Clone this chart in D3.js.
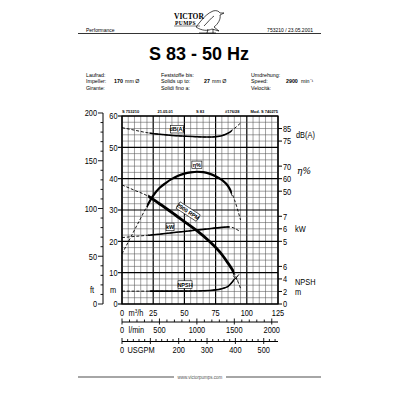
<!DOCTYPE html>
<html>
<head>
<meta charset="utf-8">
<script src="https://cdn.jsdelivr.net/npm/d3@7"></script>
<style>
body { margin: 0; background: #fff; }
svg { display: block; }
text { font-family: "Liberation Sans", Arial, sans-serif; fill: #000; }
</style>
</head>
<body>
<div id="chart"></div>
<script>
// curve data (flow in m3/h)
const headQ = [0, 10, 20, 30, 40, 50, 60, 70, 80, 85, 90, 95];
const headM = [38, 36.3, 34.6, 32, 29.2, 26.3, 23.4, 20, 15.8, 13, 9.8, 5];
const etaQ = [0, 5, 10, 15, 20, 25, 30, 35, 40, 45, 50, 55, 60, 65, 70, 75, 80, 85, 90, 95];
const etaPct = [0, 9.5, 19, 28.5, 38, 46.5, 52.5, 56.5, 59.8, 62.3, 64, 65, 65.5, 65.2, 64, 62, 59, 54, 43.5, 27];
const kwQ = [0, 10, 20, 30, 40, 50, 60, 70, 80, 85, 88, 91, 95];
const kwVal = [5.3, 5.39, 5.48, 5.57, 5.68, 5.79, 5.9, 6.01, 6.11, 6.15, 6.12, 6.0, 5.75];
const dbQ = [0, 10, 20, 30, 40, 50, 60, 70, 75, 80, 85, 90, 95];
const dbVal = [85.7, 83.7, 81.7, 80.4, 79.5, 78.9, 78.4, 78.2, 78.5, 79.3, 81.3, 85, 89.4];
const npshQ = [0, 20, 40, 60, 70, 75, 80, 85, 90, 95];
const npshVal = [2.05, 2.05, 2.05, 2.07, 2.15, 2.25, 2.45, 2.8, 3.9, 5.0];

// axis ticks
const qTicks = [0, 25, 50, 75, 100, 125];
const mTicks = [0, 10, 20, 30, 40, 50, 60];
const ftTicks = [0, 50, 100, 150, 200];
const lminTicks = [0, 500, 1000, 1500, 2000];
const gpmTicks = [0, 200, 300, 400, 500];
const dbTicks = [85, 75];
const etaTicks = [70, 60, 50];
const kwTicks = [7, 6, 5];
const npshTicks = [6, 4, 2, 0];
const topNotes = ["S 753210", "21.05.01", "S 83", "#176/28", "Mod. S 740275"];

const W = 400, H = 400;
const svg = d3.select("#chart").append("svg").attr("width", W).attr("height", H);
svg.append("rect").attr("width", W).attr("height", H).attr("fill", "#fff");

const x = d3.scaleLinear().domain([0, 125]).range([122, 278]);
const yH = d3.scaleLinear().domain([0, 60]).range([304, 116]);
const yFt = d3.scaleLinear().domain([0, 200]).range([yH(0), yH(200 * 0.3048)]);
const yEta = d3.scaleLinear().domain([0, 100]).range([yH(16), yH(56)]);
const yKw = d3.scaleLinear().domain([5, 7]).range([yH(20), yH(28)]);
const yDb = d3.scaleLinear().domain([75, 85]).range([yH(52), yH(56)]);
const yNpsh = d3.scaleLinear().domain([0, 6]).range([yH(0), yH(12)]);
const xLmin = d3.scaleLinear().domain([0, 125 / 0.06]).range(x.range());
const xGpm = d3.scaleLinear().domain([0, 125 / 0.227125]).range(x.range());

// condensed axis lettering, like the printed sheet
function nt(sel, fx, fy, anchor) {
  return sel.attr("transform", (d, i) => `translate(${fx(d, i)},${fy(d, i)}) scale(0.78,1)`)
    .attr("text-anchor", anchor || "start")
    .style("font-size", "9.5px");
}

// ---- header
svg.append("text").attr("x", 174).attr("y", 18.5)
  .style("font-family", "'Liberation Serif', serif").style("font-weight", "bold")
  .style("font-size", "7.5px").text("VICTOR");
svg.append("text").attr("x", 175).attr("y", 24.5)
  .style("font-family", "'Liberation Serif', serif").style("font-weight", "bold")
  .style("font-size", "5.5px").style("letter-spacing", "0.4px").text("PUMPS");
svg.append("path")
  .attr("d", "M196,27 L200,22 C204,17 208,13 213,11 C216,10 219,11 220,13 L224,13 L220,15 C221,19 218,24 214,27 L219,31 L212,29 C208,31 202,31 196,27 Z M204,26 C208,22 211,18 214,16 M208,29 L207,33 M213,29 L213,33 M199,33 L216,33")
  .attr("fill", "none").attr("stroke", "#000").attr("stroke-width", 0.7);
svg.append("line").attr("x1", 174).attr("x2", 200).attr("y1", 26).attr("y2", 26)
  .attr("stroke", "#000").attr("stroke-width", 0.5);

svg.append("text").attr("x", 86).attr("y", 31.5).style("font-size", "5px").text("Performance");
svg.append("text").attr("x", 313).attr("y", 31.5).attr("text-anchor", "end")
  .style("font-size", "5px").text("753210 / 23.05.2001");
svg.append("line").attr("x1", 78).attr("x2", 321).attr("y1", 33.5).attr("y2", 33.5)
  .attr("stroke", "#000").attr("stroke-width", 0.8);

svg.append("text").attr("x", 199).attr("y", 60).attr("text-anchor", "middle")
  .style("font-size", "18px").style("font-weight", "bold").text("S 83 - 50 Hz");

const info = [
  [86, 76.5, "Laufrad:", false], [86, 83, "Impeller:", false], [86, 89.5, "Girante:", false],
  [114, 83, "170", true], [125, 83, "mm Ø", false],
  [161, 76.5, "Feststoffe bis:", false], [161, 83, "Solids up to:", false], [161, 89.5, "Solidi fino a:", false],
  [204, 83, "27", true], [212, 83, "mm Ø", false],
  [251, 76.5, "Umdrehung:", false], [251, 83, "Speed:", false], [251, 89.5, "Velocità:", false],
  [286, 83, "2900", true], [301, 83, "min⁻¹", false]
];
svg.selectAll("text.info").data(info).enter().append("text")
  .attr("class", "info")
  .attr("x", d => d[0]).attr("y", d => d[1])
  .style("font-size", "5.3px").style("font-weight", d => d[3] ? "bold" : "normal")
  .text(d => d[2]);

// ---- grid
const g = svg.append("g");
const vLines = d3.range(0, 126, 5);
const hLines = d3.range(0, 61, 2);
g.selectAll("line.v").data(vLines).enter().append("line")
  .attr("x1", d => x(d)).attr("x2", d => x(d))
  .attr("y1", yH(0)).attr("y2", yH(60))
  .attr("stroke", d => d % 25 === 0 ? "#000" : "#555")
  .attr("stroke-width", d => d % 25 === 0 ? 1.2 : 0.55);
g.selectAll("line.h").data(hLines).enter().append("line")
  .attr("x1", x(0)).attr("x2", x(125))
  .attr("y1", d => yH(d)).attr("y2", d => yH(d))
  .attr("stroke", d => d % 10 === 0 ? "#000" : "#555")
  .attr("stroke-width", d => d % 10 === 0 ? 1.2 : 0.55);
g.append("rect").attr("x", x(0)).attr("y", yH(60))
  .attr("width", x(125) - x(0)).attr("height", yH(0) - yH(60))
  .attr("fill", "none").attr("stroke", "#000").attr("stroke-width", 1.2);

// notes above the grid
const notePos = [122, 157.5, 196, 225, 250.5];
svg.selectAll("text.note").data(topNotes).enter().append("text")
  .attr("x", (d, i) => notePos[i]).attr("y", 112.5)
  .style("font-size", "4px").style("font-weight", "bold").text(d => d);

// ---- left axes
svg.selectAll("line.mt").data(mTicks).enter().append("line")
  .attr("x1", 118).attr("x2", 122).attr("y1", d => yH(d)).attr("y2", d => yH(d))
  .attr("stroke", "#000").attr("stroke-width", 1.1);
nt(svg.selectAll("text.ml").data(mTicks).enter().append("text").text(d => d),
  () => 117.5, d => yH(d) + 3.4, "end");
nt(svg.append("text").datum(0).text("m"), () => 110, () => 293);

svg.append("line").attr("x1", 103).attr("x2", 103).attr("y1", yFt(0)).attr("y2", yFt(200))
  .attr("stroke", "#000").attr("stroke-width", 1);
svg.selectAll("line.ft").data(d3.range(0, 201, 10)).enter().append("line")
  .attr("x1", d => d % 50 === 0 ? 98 : 100.5).attr("x2", 103)
  .attr("y1", d => yFt(d)).attr("y2", d => yFt(d))
  .attr("stroke", "#000").attr("stroke-width", 0.9);
nt(svg.selectAll("text.ftl").data(ftTicks).enter().append("text").text(d => d),
  () => 97, d => yFt(d) + 3.4, "end");
nt(svg.append("text").datum(0).text("ft"), () => 90, () => 293);

// ---- right axes
const rightTicks = [
  ...dbTicks.map(v => ({ v, y: yDb(v) })),
  ...etaTicks.map(v => ({ v, y: yEta(v) })),
  ...kwTicks.map(v => ({ v, y: yKw(v) })),
  ...npshTicks.map(v => ({ v, y: yNpsh(v) }))
];
svg.selectAll("line.rt").data(rightTicks).enter().append("line")
  .attr("x1", 278).attr("x2", 282).attr("y1", d => d.y).attr("y2", d => d.y)
  .attr("stroke", "#000").attr("stroke-width", 1);
nt(svg.selectAll("text.rl").data(rightTicks).enter().append("text").text(d => d.v),
  () => 283, d => d.y + 3.4);
const rightTitles = [
  [296, 138, "dB(A)"], [295, 232, "kW"], [295, 284.5, "NPSH"], [295, 294.5, "m"]
];
nt(svg.selectAll("text.rtt").data(rightTitles).enter().append("text").text(d => d[2]),
  d => d[0], d => d[1]);
svg.append("text").attr("x", 297).attr("y", 174)
  .style("font-family", "'DejaVu Serif', serif").style("font-style", "italic")
  .style("font-size", "9px").text("η%");

// ---- bottom axes
nt(svg.selectAll("text.q").data(qTicks).enter().append("text").text(d => d),
  d => x(d), () => 316, "middle");
nt(svg.append("text").datum(0), () => 128.5, () => 316)
  .html("m<tspan dy='-3.5' style='font-size:6px'>3</tspan><tspan dy='3.5'>/h</tspan>");

function subAxis(scale, y0, step, major, maxV, labels, unit, unitX) {
  svg.append("line").attr("x1", x(0)).attr("x2", x(125)).attr("y1", y0).attr("y2", y0)
    .attr("stroke", "#000").attr("stroke-width", 1);
  svg.selectAll(null).data(d3.range(0, maxV + 1, step)).enter().append("line")
    .attr("x1", d => scale(d)).attr("x2", d => scale(d))
    .attr("y1", d => d % major === 0 ? y0 - 3.5 : y0 - 2.5)
    .attr("y2", d => d % major === 0 ? y0 + 2.5 : y0)
    .attr("stroke", "#000").attr("stroke-width", 0.9);
  nt(svg.selectAll(null).data(labels).enter().append("text").text(d => d),
    d => scale(d), () => y0 + 11, "middle");
  nt(svg.append("text").datum(0).text(unit), () => unitX, () => y0 + 11);
}
subAxis(xLmin, 322, 100, 500, 2000, lminTicks, "l/min", 128.5);
subAxis(xGpm, 341.5, 20, 100, 540, gpmTicks, "USGPM", 127.5);

// ---- curves
const series = [
  { q: dbQ, v: dbVal, y: yDb, solid: [22, 88], w: 1.6 },
  { q: etaQ, v: etaPct, y: yEta, solid: [20, 88], w: 2.2 },
  { q: kwQ, v: kwVal, y: yKw, solid: [21, 86], w: 1.6 },
  { q: npshQ, v: npshVal, y: yNpsh, solid: [22, 90], w: 1.6 },
  { q: headQ, v: headM, y: yH, solid: [21, 90], w: 2.8 }
];
const defs = svg.append("defs");
series.forEach((s, i) => {
  const pts = s.q.map((q, j) => [x(q), s.y(s.v[j])]);
  const line = d3.line().curve(d3.curveMonotoneX);
  svg.append("path").attr("d", line(pts)).attr("fill", "none")
    .attr("stroke", "#000").attr("stroke-width", 0.9).attr("stroke-dasharray", "3,1.8");
  defs.append("clipPath").attr("id", "solid" + i).append("rect")
    .attr("x", x(s.solid[0])).attr("width", x(s.solid[1]) - x(s.solid[0]))
    .attr("y", 100).attr("height", 220);
  svg.append("path").attr("d", line(pts)).attr("fill", "none")
    .attr("stroke", "#000").attr("stroke-width", s.w)
    .attr("clip-path", `url(#solid${i})`);
});

// crossing mark of head and NPSH
const markQ = 91;
const markX = x(markQ), markY = yNpsh(4.1);
svg.append("path")
  .attr("d", `M${markX - 2.5},${markY - 2.5}L${markX + 2.5},${markY + 2.5}M${markX - 2.5},${markY + 2.5}L${markX + 2.5},${markY - 2.5}`)
  .attr("stroke", "#000").attr("stroke-width", 0.8);

// curve tags
const tags = [
  { q: 44, h: 55.8, t: "dB(A)", w: 13, ang: 0 },
  { q: 60, h: 44.4, t: "η%", w: 10, ang: 0 },
  { q: 38.5, h: 24.6, t: "kW", w: 8, ang: 0 },
  { q: 50.5, h: 6.2, t: "NPSH", w: 14, ang: 0 },
  { q: 53, h: 29.5, t: "2900 RPM", w: 24, ang: 33 }
];
const tg = svg.selectAll("g.tag").data(tags).enter().append("g")
  .attr("transform", d => `translate(${x(d.q)},${yH(d.h)}) rotate(${d.ang})`);
tg.append("rect").attr("x", d => -d.w / 2).attr("y", -3.8).attr("width", d => d.w).attr("height", 7.6)
  .attr("fill", "#fff").attr("stroke", "#000").attr("stroke-width", 0.6);
tg.append("text").attr("text-anchor", "middle").attr("y", 2)
  .style("font-size", "5.5px").style("font-weight", "bold").text(d => d.t);

// ---- footer
svg.append("line").attr("x1", 78).attr("x2", 174).attr("y1", 377).attr("y2", 377)
  .attr("stroke", "#000").attr("stroke-width", 0.7);
svg.append("line").attr("x1", 226).attr("x2", 321).attr("y1", 377).attr("y2", 377)
  .attr("stroke", "#000").attr("stroke-width", 0.7);
svg.append("text").attr("x", 200).attr("y", 378.6).attr("text-anchor", "middle")
  .style("font-size", "4.5px").style("fill", "#555").text("www.victorpumps.com");
</script>
</body>
</html>
